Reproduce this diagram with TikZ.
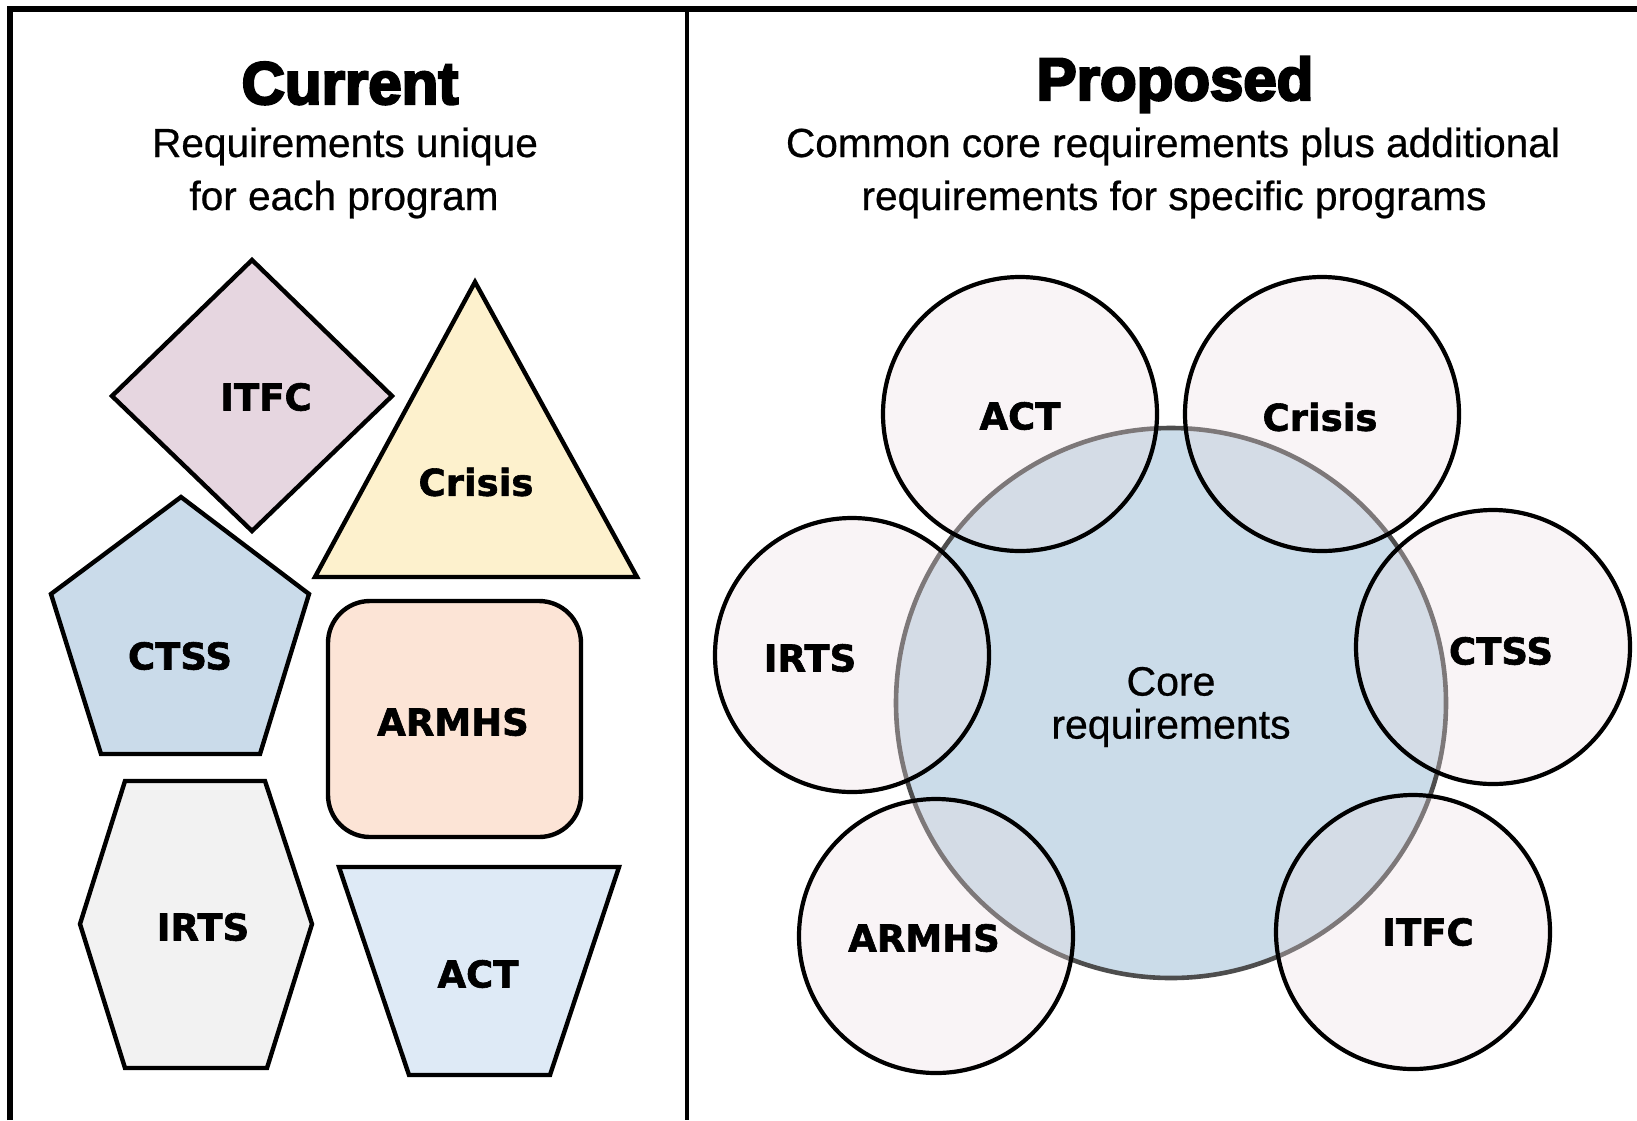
\documentclass[tikz,border=0pt]{standalone}
\usepackage{fontspec}
\setmainfont{Liberation Sans}[FakeBold=0.6]
\newfontfamily\heavyfont[BoldFeatures={FakeBold=1.6}]{DejaVu Sans}
\newfontfamily\titlefont[BoldFeatures={FakeBold=4}]{Liberation Sans}
\definecolor{itfcfill}{HTML}{E6D6E0}
\definecolor{crisisfill}{HTML}{FDF1CD}
\definecolor{ctssfill}{HTML}{CADBEA}
\definecolor{armhsfill}{HTML}{FCE4D6}
\definecolor{irtsfill}{HTML}{F2F2F2}
\definecolor{actfill}{HTML}{DEEAF6}
\definecolor{corefill}{HTML}{CBDCE9}
\definecolor{coregrey}{HTML}{4D4D4D}
\definecolor{ringfill}{HTML}{ECDCE2}
\tikzset{
	shapeline/.style={draw=black, line width=2.2pt},
	ringline/.style={draw=black, line width=2.1pt, fill=ringfill, fill opacity=0.3, draw opacity=1},
	lbl/.style={font=\heavyfont\bfseries\fontsize{18.5}{22}\selectfont},
	headtitle/.style={anchor=base, font=\titlefont\bfseries\fontsize{30}{36}\selectfont},
	subtitle/.style={anchor=base, font=\fontsize{20.3}{24}\selectfont}
}
\begin{document}
\begin{tikzpicture}[x=0.5pt, y=-0.5pt]
		\useasboundingbox (0,0) rectangle (1637,1120);
		\draw[line width=2.6pt] (10,1120) -- (10,9) -- (1637,9);
		\draw[line width=2.2pt] (687,9) -- (687,1120);
		\node[headtitle] (curtitle) at (350,104) {Current};
		\node[subtitle] (cursub1) at (345,157) {Requirements unique};
		\node[subtitle] (cursub2) at (344,210) {for each program};
		\node[headtitle] (proptitle) at (1175,100) {Proposed};
		\node[subtitle] (propsub1) at (1173,157) {Common core requirements plus additional};
		\node[subtitle] (propsub2) at (1174,210) {requirements for specific programs};
		\draw[shapeline, fill=itfcfill] (252,260) -- (392,396) -- (252,531) -- (112,396) -- cycle;
		\node[lbl] (itfc) at (266,397) {ITFC};
		\draw[shapeline, fill=crisisfill] (475,282) -- (637,577) -- (315,577) -- cycle;
		\node[lbl] (crisis) at (476,482) {Crisis};
		\draw[shapeline, fill=ctssfill] (181,497) -- (309,594) -- (260,754) -- (101,754) -- (51,594) -- cycle;
		\node[lbl] (ctss) at (180,656) {CTSS};
		\draw[shapeline, fill=armhsfill, rounded corners=21pt] (328,601) rectangle (581,837);
		\node[lbl] (armhs) at (453,722) {ARMHS};
		\draw[shapeline, fill=irtsfill] (125,781) -- (265,781) -- (312,924) -- (267,1068) -- (125,1068) -- (80,924) -- cycle;
		\node[lbl] (irts) at (203,927) {IRTS};
		\draw[shapeline, fill=actfill] (339,867) -- (619,867) -- (550,1075) -- (409,1075) -- cycle;
		\node[lbl] (act) at (478,974) {ACT};
		\coordinate (core) at (1171,703);
		\draw[draw=coregrey, line width=2.3pt, fill=corefill] (core) circle (275);
		\foreach \cx/\cy in {1020/414, 1322/414, 852/655, 1493/647, 936/936, 1413/932}
			\draw[ringline] (\cx,\cy) circle (137);
		\node[lbl] (ringact) at (1020,416) {ACT};
		\node[lbl] (ringcrisis) at (1320,417) {Crisis};
		\node[lbl] (ringirts) at (810,658) {IRTS};
		\node[lbl] (ringctss) at (1501,651) {CTSS};
		\node[lbl] (ringarmhs) at (924,938) {ARMHS};
		\node[lbl] (ringitfc) at (1428,932) {ITFC};
		\node[align=center, font=\fontsize{20.5}{21.5}\selectfont] (corelbl) at (1171,707) {Core\\requirements};
\end{tikzpicture}
\end{document}
